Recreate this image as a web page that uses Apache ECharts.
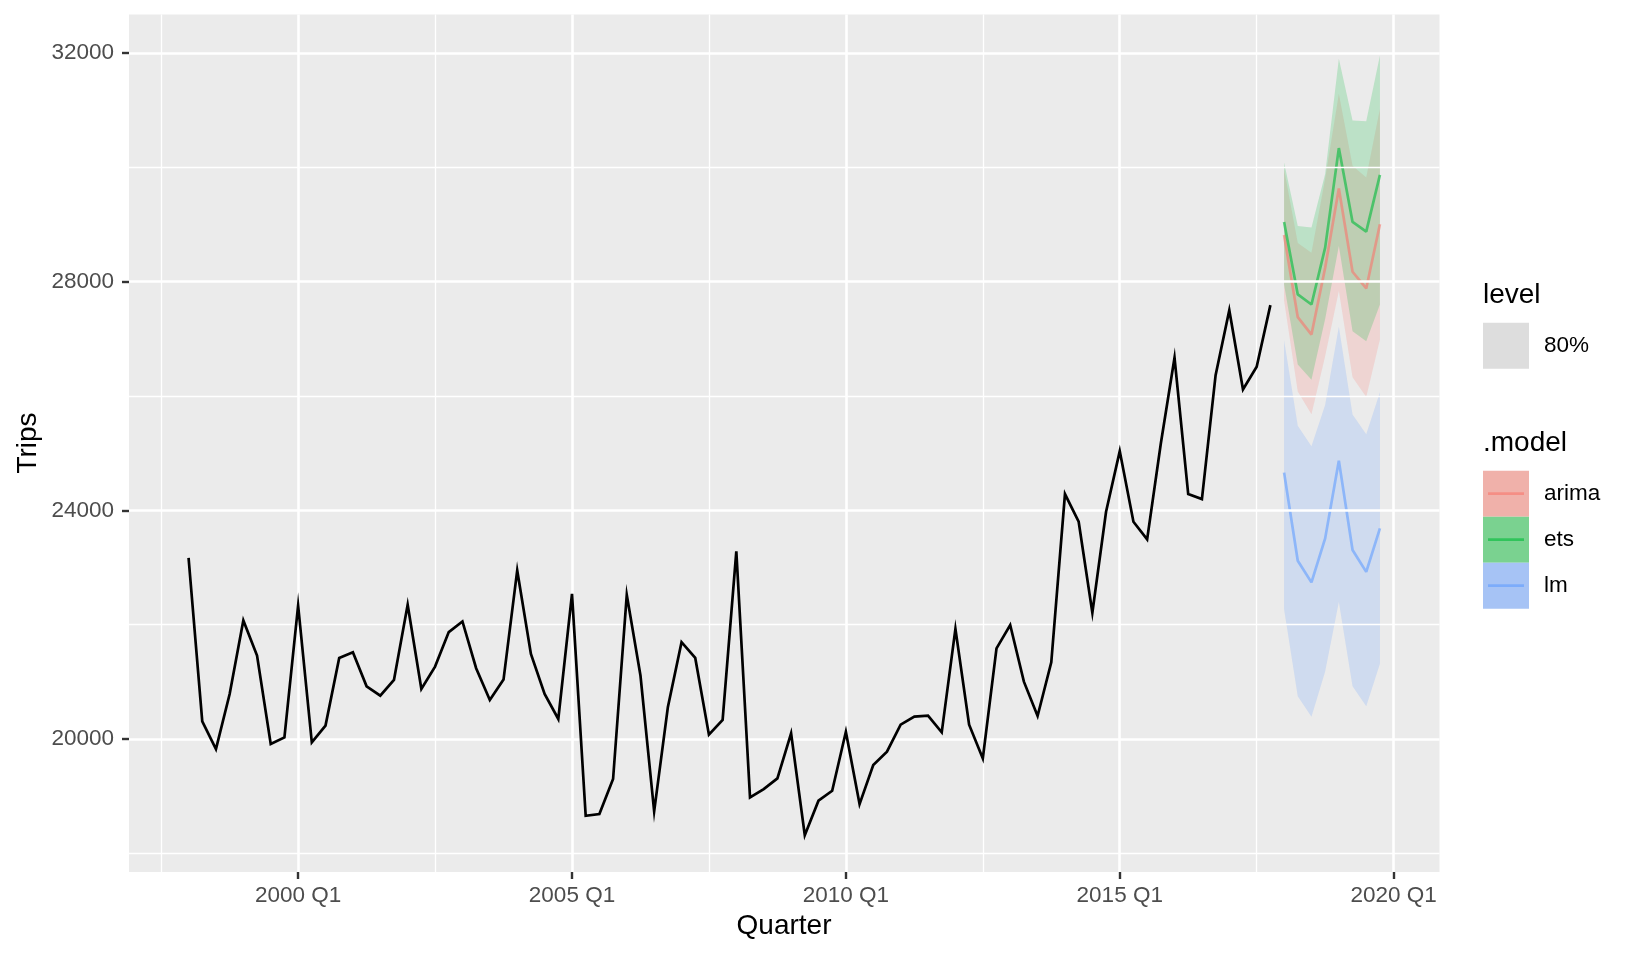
<!DOCTYPE html>
<html>
<head>
<meta charset="utf-8">
<script src="https://cdn.jsdelivr.net/npm/echarts@6/dist/echarts.min.js"></script>
<style>
  html, body { margin: 0; padding: 0; background: #ffffff; }
  #chart { width: 1632px; height: 960px; }
</style>
</head>
<body>
<div id="chart"></div>
<script>
// ---------------- data ----------------
const histStartYear = 1998; // first quarter: 1998 Q1
const histTrips = [
  23170, 20310, 19825, 20788, 22073, 21460, 19912, 20029,
  22336, 19942, 20234, 21419, 21518, 20923, 20759, 21034,
  22348, 20876, 21267, 21870, 22056, 21238, 20683, 21040,
  22949, 21489, 20788, 20350, 22540, 18657, 18686, 19299,
  22523, 21110, 18733, 20555, 21694, 21419, 20076, 20335,
  23282, 18978, 19124, 19311, 20099, 18318, 18920, 19095,
  20128, 18861, 19545, 19778, 20251, 20391, 20409, 20117,
  21927, 20251, 19660, 21586, 21994, 21003, 20402, 21341,
  24285, 23801, 22210, 23976, 25037, 23801, 23492, 25171,
  26670, 24285, 24198, 26366, 27503, 26116, 26512, 27591
];
const fcStartYear = 2018; // first forecast quarter: 2018 Q1
const models = ['arima', 'ets', 'lm'];
const arimaMean  = [28819, 27380, 27076, 28246, 29632, 28175, 27883, 29006];
const arimaLower = [27670, 26080, 25680, 26700, 27840, 26330, 25982, 26990];
const arimaUpper = [29970, 28680, 28509, 29800, 31287, 30029, 29825, 31023];
const etsMean    = [29047, 27778, 27602, 28596, 30339, 29047, 28877, 29871];
const etsLower   = [27953, 26550, 26287, 27350, 28626, 27134, 26959, 27602];
const etsUpper   = [30088, 28977, 28947, 29883, 31901, 30819, 30807, 31959];
const lmMean     = [24660, 23118, 22740, 23510, 24870, 23308, 22924, 23686];
const lmLower    = [22270, 20750, 20390, 21180, 22395, 20922, 20571, 21315];
const lmUpper    = [26977, 25480, 25123, 25844, 27211, 25677, 25333, 26066];

const xTicks = [2000, 2005, 2010, 2015, 2020];
const xTickLabels = ['2000 Q1', '2005 Q1', '2010 Q1', '2015 Q1', '2020 Q1'];
const xMinor = [1997.5, 2002.5, 2007.5, 2012.5, 2017.5];
const yTicks = [20000, 24000, 28000, 32000];
const yMinor = [18000, 22000, 26000, 30000];
const levelLabel = '80%';

// ---------------- styles ----------------
const FONT = "'Liberation Sans', Arial, Helvetica, sans-serif";
const modelLine = {
  arima: 'rgba(248,118,109,0.6)',
  ets: 'rgba(0,186,56,0.6)',
  lm: 'rgba(97,156,255,0.6)'
};
const modelBand = {
  arima: 'rgba(248,118,109,0.2)',
  ets: 'rgba(0,186,56,0.2)',
  lm: 'rgba(97,156,255,0.2)'
};
const modelKey = {
  arima: '#F0B1AA',
  ets: '#7AD290',
  lm: '#A6C3F5'
};

// quarter index -> decimal year position
const qx = (startYear, i) => startYear + i / 4;

const histData = histTrips.map((v, i) => [qx(histStartYear, i), v]);
const fc = {
  arima: { mean: arimaMean, lower: arimaLower, upper: arimaUpper },
  ets: { mean: etsMean, lower: etsLower, upper: etsUpper },
  lm: { mean: lmMean, lower: lmLower, upper: lmUpper }
};

const series = [];

// grid lines drawn via the axes' scales
series.push({
  type: 'line', data: [], z: 1, silent: true,
  markLine: {
    silent: true, symbol: ['none', 'none'], animation: false,
    label: { show: false },
    emphasis: { disabled: true },
    data: [
      ...xMinor.map(v => ({ xAxis: v, lineStyle: { color: '#ffffff', width: 1.3, type: 'solid' } })),
      ...yMinor.map(v => ({ yAxis: v, lineStyle: { color: '#ffffff', width: 1.3, type: 'solid' } })),
      ...xTicks.map(v => ({ xAxis: v, lineStyle: { color: '#ffffff', width: 2.6, type: 'solid' } })),
      ...yTicks.map(v => ({ yAxis: v, lineStyle: { color: '#ffffff', width: 2.6, type: 'solid' } }))
    ]
  }
});

// prediction interval bands (polygons through the axes' scales)
series.push({
  type: 'custom', z: 3, silent: true,
  data: models.map((m, k) => [fcStartYear, fc[m].mean[0], k]),
  renderItem: (params, api) => {
    const m = models[params.dataIndex];
    const f = fc[m];
    const pts = [];
    f.upper.forEach((v, i) => pts.push(api.coord([qx(fcStartYear, i), v])));
    for (let i = f.lower.length - 1; i >= 0; i--) pts.push(api.coord([qx(fcStartYear, i), f.lower[i]]));
    return { type: 'polygon', shape: { points: pts }, style: { fill: modelBand[m], stroke: null } };
  }
});

// mean lines
models.forEach(m => {
  series.push({
    name: m, type: 'line', z: 4,
    data: fc[m].mean.map((v, i) => [qx(fcStartYear, i), v]),
    symbol: 'none', lineStyle: { color: modelLine[m], width: 2.7 }, silent: true
  });
});

// history
series.push({
  name: 'Trips', type: 'line', z: 5,
  data: histData, symbol: 'none',
  lineStyle: { color: '#000000', width: 2.7, join: 'miter' }, silent: true
});

// ---------------- legend / titles (graphics) ----------------
const LX = 1483, KEY = 46, TX = 1544;
const g = [];
g.push({ type: 'text', x: 784, y: 926, style: { text: 'Quarter', font: '28px ' + FONT, fill: '#000', align: 'center', verticalAlign: 'middle' } });
g.push({ type: 'text', x: 28, y: 443, rotation: Math.PI / 2, style: { text: 'Trips', font: '28px ' + FONT, fill: '#000', align: 'center', verticalAlign: 'middle' } });
g.push({ type: 'text', x: LX, y: 295, style: { text: 'level', font: '28px ' + FONT, fill: '#000', align: 'left', verticalAlign: 'middle' } });
g.push({ type: 'rect', shape: { x: LX, y: 322.7, width: KEY, height: KEY }, style: { fill: '#DDDDDD' } });
g.push({ type: 'text', x: TX, y: 346, style: { text: levelLabel, font: '22.5px ' + FONT, fill: '#000', align: 'left', verticalAlign: 'middle' } });
g.push({ type: 'text', x: LX, y: 443, style: { text: '.model', font: '28px ' + FONT, fill: '#000', align: 'left', verticalAlign: 'middle' } });
models.forEach((m, i) => {
  const y0 = 470.7 + i * KEY;
  g.push({ type: 'rect', shape: { x: LX, y: y0, width: KEY, height: KEY }, style: { fill: modelKey[m] } });
  g.push({ type: 'line', shape: { x1: LX + 5, y1: y0 + KEY / 2, x2: LX + KEY - 5, y2: y0 + KEY / 2 }, style: { stroke: modelLine[m], lineWidth: 2.7 } });
  g.push({ type: 'text', x: TX, y: y0 + KEY / 2, style: { text: m, font: '22.5px ' + FONT, fill: '#000', align: 'left', verticalAlign: 'middle' } });
});

const option = {
  animation: false,
  backgroundColor: '#ffffff',
  grid: {
    left: 129, top: 14.6, width: 1310.5, height: 857.4,
    show: true, backgroundColor: '#EBEBEB', borderWidth: 0, containLabel: false
  },
  xAxis: {
    type: 'value', min: 1996.9125, max: 2020.8375,
    axisLine: { show: false },
    splitLine: { show: false },
    axisTick: { show: true, length: 7, lineStyle: { color: '#333333', width: 2.4 }, customValues: xTicks },
    axisLabel: {
      show: true, customValues: xTicks, margin: 12,
      formatter: v => xTickLabels[xTicks.indexOf(v)] || '',
      color: '#4D4D4D', fontSize: 22.5, fontFamily: FONT
    }
  },
  yAxis: {
    type: 'value', min: 17673, max: 32674,
    axisLine: { show: false },
    splitLine: { show: false },
    axisTick: { show: true, length: 7, lineStyle: { color: '#333333', width: 2.4 }, customValues: yTicks },
    axisLabel: {
      show: true, customValues: yTicks, margin: 15,
      formatter: v => String(v),
      color: '#4D4D4D', fontSize: 22.5, fontFamily: FONT
    }
  },
  series: series,
  graphic: { elements: g }
};

const chart = echarts.init(document.getElementById('chart'), null, { renderer: 'canvas' });
chart.setOption(option);
</script>
</body>
</html>
